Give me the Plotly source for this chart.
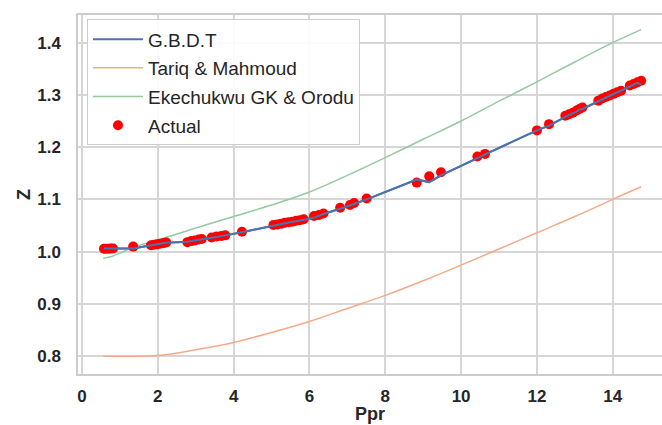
import plotly.graph_objects as go

# Pseudo-reduced pressure of the measured samples
ppr = [0.58, 0.64, 0.70, 0.76, 0.82, 1.35,
       1.82, 1.90, 1.98, 2.06, 2.14, 2.22,
       2.78, 2.88, 2.98, 3.08, 3.16,
       3.42, 3.55, 3.68, 3.78, 4.22,
       5.05, 5.15, 5.25, 5.35, 5.45, 5.55, 5.65, 5.75, 5.85,
       6.12, 6.25, 6.37, 6.81, 7.07, 7.18, 7.51,
       8.83, 9.16, 9.47, 10.43, 10.63, 12.00, 12.32,
       12.75, 12.85, 12.95, 13.05, 13.12, 13.20,
       13.62, 13.72, 13.82, 13.92, 14.02, 14.12, 14.22,
       14.45, 14.55, 14.65, 14.75]

# Measured Z-factor
z_actual = [1.0055, 1.0055, 1.0055, 1.006, 1.006, 1.0095,
            1.012, 1.013, 1.014, 1.015, 1.016, 1.0175,
            1.018, 1.020, 1.021, 1.023, 1.024,
            1.027, 1.029, 1.030, 1.031, 1.038,
            1.051, 1.052, 1.053, 1.055, 1.056, 1.057, 1.059, 1.060, 1.062,
            1.068, 1.070, 1.073, 1.084, 1.089, 1.093, 1.1015,
            1.132, 1.144, 1.152, 1.182, 1.187, 1.232, 1.244,
            1.260, 1.263, 1.266, 1.270, 1.273, 1.276,
            1.289, 1.293, 1.296, 1.299, 1.302, 1.305, 1.308,
            1.318, 1.321, 1.324, 1.327]

# Gradient boosted trees prediction at the same pressures
z_gbdt = [1.006, 1.006, 1.006, 1.006, 1.007, 1.006,
          1.012, 1.013, 1.014, 1.015, 1.016, 1.017,
          1.019, 1.020, 1.021, 1.022, 1.023,
          1.026, 1.028, 1.030, 1.031, 1.037,
          1.050, 1.052, 1.053, 1.054, 1.056, 1.057, 1.058, 1.060, 1.061,
          1.065, 1.069, 1.072, 1.082, 1.088, 1.091, 1.100,
          1.138, 1.133, 1.146, 1.179, 1.186, 1.232, 1.241,
          1.258, 1.262, 1.265, 1.268, 1.272, 1.273,
          1.288, 1.292, 1.295, 1.299, 1.302, 1.305, 1.308,
          1.316, 1.320, 1.323, 1.320]

# Empirical correlations
ppr_tariq = [0.56, 1.0, 2.0, 3.0, 4.0, 5.0, 6.0, 7.0, 8.0, 9.0,
             10.0, 11.0, 12.0, 13.0, 14.0, 14.75]
z_tariq = [0.7995, 0.7995, 0.801, 0.812, 0.826, 0.845, 0.866, 0.891, 0.916, 0.944,
           0.974, 1.005, 1.036, 1.067, 1.100, 1.124]

ppr_eke = [0.56, 0.8, 1.0, 1.35, 2.0, 3.0, 4.0, 5.0, 6.0, 7.0, 8.0, 9.0,
           10.0, 11.0, 12.0, 13.0, 14.0, 14.75]
z_eke = [0.987, 0.991, 0.997, 1.008, 1.022, 1.045, 1.067, 1.089, 1.114, 1.146, 1.180, 1.215,
         1.250, 1.288, 1.325, 1.363, 1.400, 1.425]

x_ticks = [0, 2, 4, 6, 8, 10, 12, 14]
y_ticks = [0.8, 0.9, 1.0, 1.1, 1.2, 1.3, 1.4]

FONT = "Liberation Sans, Arial, sans-serif"
GRID = "#d6d6d6"

fig = go.Figure()
fig.add_trace(go.Scatter(x=ppr, y=z_gbdt, mode="lines", name="G.B.D.T",
                         legendgroup="a",
                         line=dict(color="#4c72b0", width=2)))
fig.add_trace(go.Scatter(x=ppr_tariq, y=z_tariq, mode="lines", name="Tariq & Mahmoud",
                         legendgroup="b",
                         line=dict(color="#f4aa88", width=1.5, shape="spline")))
fig.add_trace(go.Scatter(x=ppr_eke, y=z_eke, mode="lines", name="Ekechukwu GK & Orodu",
                         legendgroup="c",
                         line=dict(color="#95c9a1", width=1.5, shape="spline")))
fig.add_trace(go.Scatter(x=ppr, y=z_actual, mode="markers", name="Actual",
                         legendgroup="d",
                         marker=dict(color="red", size=10)))
# keep the prediction line drawn on top of the markers
fig.add_trace(go.Scatter(x=ppr, y=z_gbdt, mode="lines", showlegend=False,
                         hoverinfo="skip",
                         line=dict(color="#4c72b0", width=2)))

axis_common = dict(
    showgrid=True, gridcolor=GRID, gridwidth=1.5,
    showline=True, linecolor="#cccccc", linewidth=1.5, mirror=True,
    zeroline=False, ticks="", automargin=False,
    tickfont=dict(family=FONT, size=17, color="#262626", weight="bold"),
)

fig.update_layout(
    width=662, height=425,
    margin=dict(l=78, r=0, t=15, b=51),
    plot_bgcolor="white", paper_bgcolor="white",
    font=dict(family=FONT, color="#262626"),
    showlegend=True,
    legend=dict(x=0.0154, y=0.988, xanchor="left", yanchor="top",
                bgcolor="rgba(255,255,255,0.9)", bordercolor="#cccccc", borderwidth=1,
                font=dict(family=FONT, size=19, color="#262626"),
                itemwidth=50, tracegroupgap=1),
    xaxis=dict(range=[-0.105, 15.3], tickvals=x_ticks, ticklabelstandoff=6,
               **axis_common),
    yaxis=dict(range=[0.7655, 1.453], tickvals=y_ticks, tickformat=".1f",
               ticklabelstandoff=12,
               title=dict(text="Z", standoff=2,
                          font=dict(family=FONT, size=18, color="#262626", weight="bold")),
               **axis_common),
    annotations=[dict(text="Ppr", xref="paper", yref="paper", x=0.5, y=0,
                      xanchor="center", yanchor="bottom", yshift=-51, borderpad=0,
                      showarrow=False,
                      font=dict(family=FONT, size=18, color="#262626", weight="bold"))],
)

fig.write_html("out.html")
